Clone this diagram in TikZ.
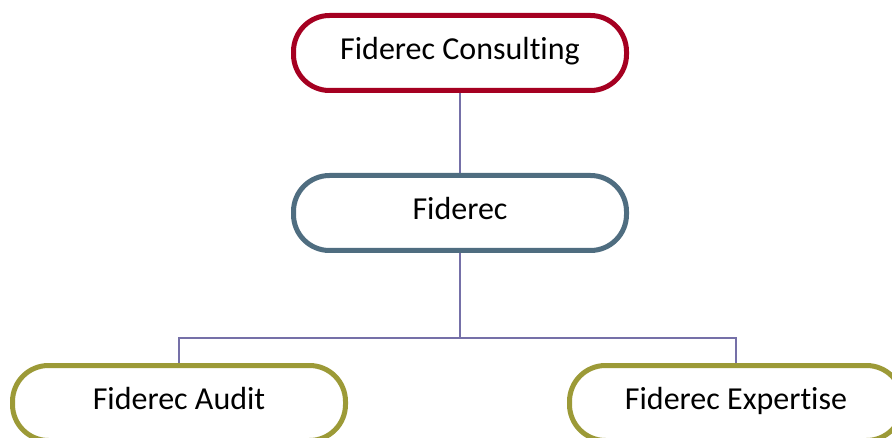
\documentclass[tikz,border=0pt]{standalone}
\usetikzlibrary{backgrounds}
\usepackage{fontspec}
\setmainfont[Ligatures=NoCommon]{Carlito}
\definecolor{cRed}{HTML}{A50021}
\definecolor{cBlue}{HTML}{4F6D80}
\definecolor{cOlive}{HTML}{9C9A37}
\definecolor{cLine}{HTML}{7570A8}
\begin{document}
\begin{tikzpicture}[x=1pt,y=1pt,
  orgbox/.style={draw, line width=5pt, fill=white, rounded corners=36pt,
    minimum width=333pt, minimum height=75pt, inner sep=0pt,
    font=\fontsize{32}{36}\selectfont, text height=22pt, text depth=9pt},
  conn/.style={draw=cLine, line width=1.3pt}]
\useasboundingbox (0,0) rectangle (892,437);
\clip (0,0) rectangle (892,437);
\node[orgbox, draw=cRed] (top) at (460,384) {Fiderec Consulting};
\node[orgbox, draw=cBlue] (mid) at (460,224) {Fiderec};
\node[orgbox, draw=cOlive] (left) at (179,34) {Fiderec Audit};
\node[orgbox, draw=cOlive] (right) at (736,34) {Fiderec Expertise};
\coordinate (j) at (460,99);
\begin{scope}[on background layer]
\draw[conn] (top.south) -- (mid.north);
\draw[conn] (mid.south) -- (j);
\draw[conn] (j) -| (left.north);
\draw[conn] (j) -| (right.north);
\end{scope}
\end{tikzpicture}
\end{document}
